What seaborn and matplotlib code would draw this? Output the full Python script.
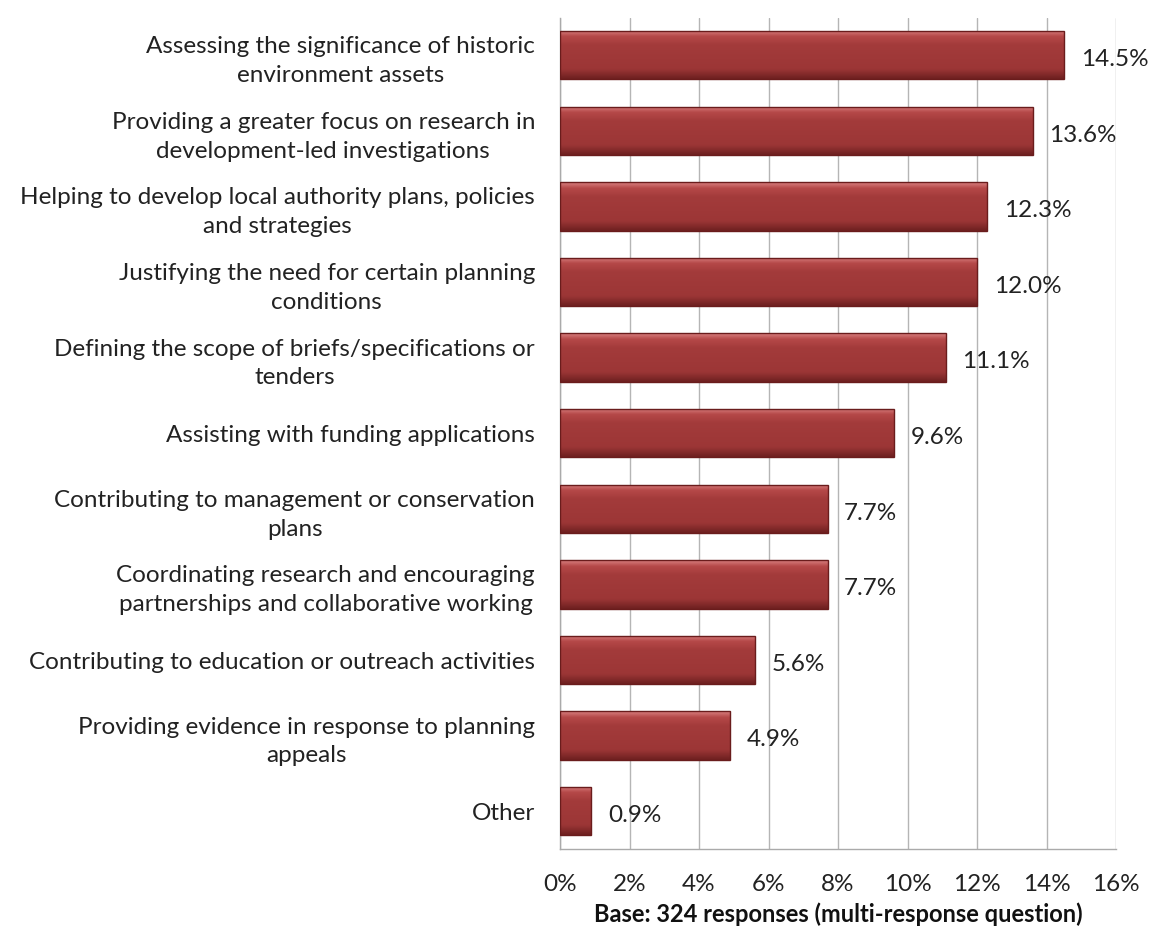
import numpy as np
import pandas as pd
import matplotlib
matplotlib.use("Agg")
import matplotlib.pyplot as plt
import seaborn as sns
from matplotlib.colors import LinearSegmentedColormap

categories = [
    "Assessing the significance of historic\nenvironment assets",
    "Providing a greater focus on research in\ndevelopment-led investigations",
    "Helping to develop local authority plans, policies\nand strategies",
    "Justifying the need for certain planning\nconditions",
    "Defining the scope of briefs/specifications or\ntenders",
    "Assisting with funding applications",
    "Contributing to management or conservation\nplans",
    "Coordinating research and encouraging\npartnerships and collaborative working",
    "Contributing to education or outreach activities",
    "Providing evidence in response to planning\nappeals",
    "Other",
]
values = [14.5, 13.6, 12.3, 12.0, 11.1, 9.6, 7.7, 7.7, 5.6, 4.9, 0.9]
value_labels = ["14.5%", "13.6%", "12.3%", "12.0%", "11.1%", "9.6%", "7.7%", "7.7%", "5.6%", "4.9%", "0.9%"]
xticks = [0, 2, 4, 6, 8, 10, 12, 14, 16]
xlabel = "Base: 324 responses (multi-response question)"

sns.set_theme(style="white")
plt.rcParams["font.family"] = ["Lato", "DejaVu Sans"]
FS = 17.5

df = pd.DataFrame({"category": categories, "value": values})

fig = plt.figure(figsize=(11.5, 9.36), dpi=100)
ax = fig.add_axes([0.48696, 0.0929, 0.48348, 0.8884])

sns.barplot(data=df, y="category", x="value", orient="h", ax=ax,
            color="#A33B3B", width=0.64, edgecolor="#6A1C1C", linewidth=1.0,
            zorder=3)

cmap = LinearSegmentedColormap.from_list(
    "bev", [(0.0, "#D98080"), (0.12, "#B54848"), (0.3, "#A33B3B"),
            (0.8, "#9C3636"), (1.0, "#6E2020")])
grad = np.linspace(0, 1, 64).reshape(-1, 1)
for p in ax.patches:
    x0, y0 = p.get_x(), p.get_y()
    w, h = p.get_width(), p.get_height()
    im = ax.imshow(grad, extent=[x0, x0 + w, y0 + h, y0], cmap=cmap,
                   aspect="auto", zorder=3.5, interpolation="bicubic")
    im.set_clip_path(p)
    p.set_facecolor("none")
    p.set_zorder(4)

ax.set_xlim(0, 16)
ax.set_ylim(len(categories) - 0.5, -0.5)
ax.set_xticks(xticks)
ax.set_xticklabels([f"{t}%" for t in xticks], fontsize=FS, color="#222222")
ax.tick_params(axis="x", which="major", direction="out", length=6, width=1,
               color="#AAAAAA", pad=12)
ax.set_yticks(range(len(categories)))
ax.set_yticklabels(categories, fontsize=FS, color="#222222",
                   multialignment="center", linespacing=1.45)
ax.tick_params(axis="y", which="major", length=0, pad=18)
ax.set_yticks(np.arange(-0.5, len(categories) + 0.5, 1), minor=True)
ax.tick_params(axis="y", which="minor", direction="out", length=6, width=1,
               color="#AAAAAA")

ax.grid(axis="x", color="#B5B5B5", linewidth=1, zorder=0)
ax.set_axisbelow(True)
for s in ["top", "right"]:
    ax.spines[s].set_visible(False)
for s in ["left", "bottom"]:
    ax.spines[s].set_color("#AAAAAA")
    ax.spines[s].set_linewidth(1)

ax.set_xlabel(xlabel, fontsize=FS - 0.5, fontweight="bold", color="#111111",
              labelpad=5)
ax.set_ylabel("")

for i, (v, lab) in enumerate(zip(values, value_labels)):
    ax.annotate(lab, xy=(v, i), xytext=(12, -3), textcoords="offset points",
                va="center", ha="left", fontsize=FS, color="#222222", zorder=5)

fig.savefig("out.png", dpi=100)
